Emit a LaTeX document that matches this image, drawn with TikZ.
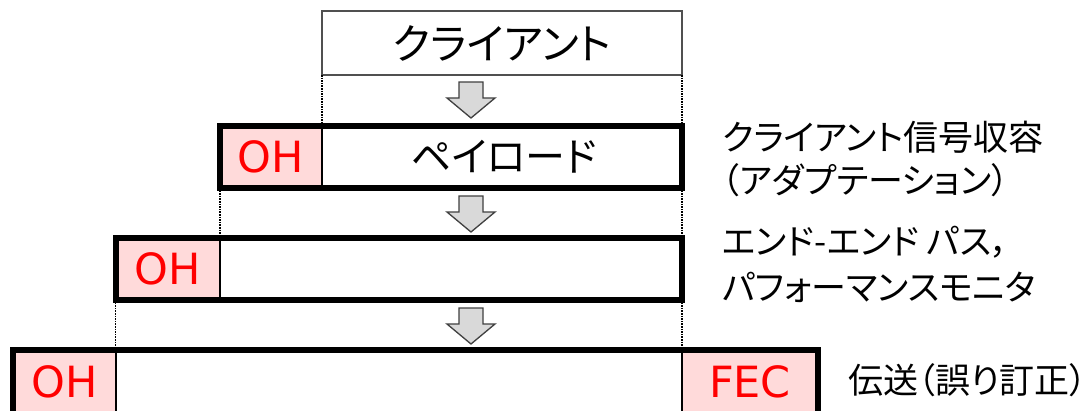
\documentclass[tikz,border=0pt]{standalone}
\usepackage{fontspec}
\setmainfont{DejaVu Sans}
\newfontfamily\jp[RawFeature=+palt]{Noto Sans CJK JP}
\definecolor{boxgray}{RGB}{80,80,80}
\definecolor{ohpink}{RGB}{255,218,218}
\definecolor{arrowgray}{RGB}{217,217,217}
\definecolor{arrowline}{RGB}{64,64,64}
\tikzset{
  clientbox/.style={draw=boxgray, line width=1.8pt, minimum width=360pt, minimum height=64pt, inner sep=0pt, outer sep=0pt, font=\jp\fontsize{42}{44}\selectfont},
  rowbox/.style={draw=black, line width=6pt, inner sep=0pt, outer sep=0pt},
  ohcell/.style={fill=ohpink, draw=black, line width=2pt, inner sep=0pt, outer sep=0pt, text=red, font=\fontsize{43}{46}\selectfont},
  paytext/.style={inner sep=0pt, font=\jp\fontsize{40}{42}\selectfont},
  guide/.style={densely dotted, line width=1.6pt},
  blockarrow/.style={fill=arrowgray, draw=arrowline, line width=1.3pt, line join=miter},
  note/.style={anchor=base west, inner sep=0pt, font=\jp\fontsize{35}{40}\selectfont},
  downarrow/.pic={\draw[blockarrow] (-12,0) -- (12,0) -- (12,16) -- (24,16) -- (0,36) -- (-24,16) -- (-12,16) -- cycle;}
}
\begin{document}
\begin{tikzpicture}[x=1pt,y=-1pt]
\useasboundingbox (0,0) rectangle (1092,410);
\clip (0,0) rectangle (1092,410);
\fill[white] (0,0) rectangle (1092,410);
% client
\node[clientbox] (client) at (502,43) {クライアント};
% row 1
\node[ohcell, minimum width=102pt, minimum height=62pt] (oh1) at (271,157) {OH};
\node[rowbox, minimum width=462pt, minimum height=62pt] (row1) at (451,157) {};
\node[paytext] (pl) at (504,157) {ペイロード};
% row 2
\node[ohcell, minimum width=104.5pt, minimum height=62pt] (oh2) at (167.75,269) {OH};
\node[rowbox, minimum width=566.5pt, minimum height=62pt] (row2) at (398.75,269) {};
% row 3
\node[ohcell, minimum width=102.5pt, minimum height=64pt] (oh3) at (64.25,382) {OH};
\node[ohcell, minimum width=136pt, minimum height=64pt] (fec) at (750,382) {FEC};
\node[rowbox, minimum width=805pt, minimum height=64pt] (row3) at (415.5,382) {};
% guides
\draw[guide] (client.south west) -- (oh1.north east);
\draw[guide] (client.south east) -- (row1.north east);
\draw[guide] (row1.south west) -- (oh2.north east);
\draw[guide] (row1.south east) -- (row2.north east);
\draw[guide] (row2.south west) -- (oh3.north east);
\draw[guide] (row2.south east) -- (fec.north west);
% arrows
\coordinate (a1) at (471,82);
\coordinate (a2) at (471,196);
\coordinate (a3) at (471,308);
\pic at (a1) {downarrow};
\pic at (a2) {downarrow};
\pic at (a3) {downarrow};
% notes
\node[note] (n1) at (722,150) {クライアント信号収容};
\node[note] (n2) at (722,193) {（アダプテーション）};
\node[note] (n3) at (722,254) {エンド-エンド パス，};
\node[note] (n4) at (722,300) {パフォーマンスモニタ};
\node[note] (n5) at (848,393) {伝送（誤り訂正）};
\end{tikzpicture}
\end{document}
